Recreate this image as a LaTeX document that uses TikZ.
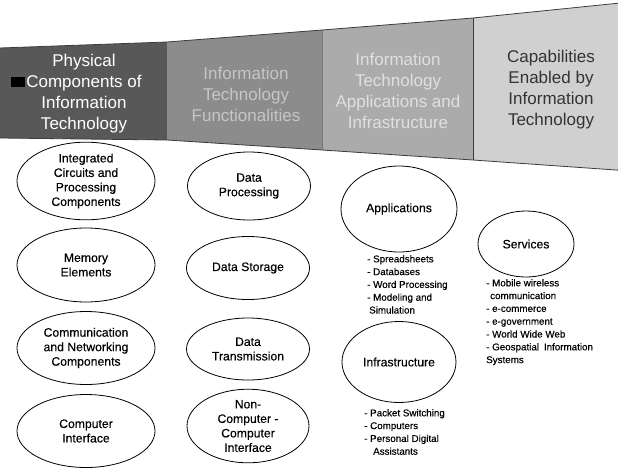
\documentclass[tikz,border=0pt]{standalone}
\usepackage{fontspec}
\setmainfont{Liberation Sans}
\newfontfamily\inkfont[FakeBold=0.35]{Liberation Sans}
\usetikzlibrary{positioning, shapes.geometric}
\definecolor{PanelA}{HTML}{585858}
\definecolor{PanelB}{HTML}{8C8C8C}
\definecolor{PanelC}{HTML}{ABABAB}
\definecolor{PanelD}{HTML}{D0D0D0}
\definecolor{Edge}{HTML}{3C3C3C}
\tikzset{
    headtext/.style={align=center, inner sep=0pt, font=\fontsize{17}{21}\selectfont},
    bubble/.style={ellipse, draw=black, line width=0.8pt, align=center, inner sep=0pt, font=\inkfont\fontsize{12.2}{14.5}\selectfont},
    bullets/.style={anchor=north west, align=left, inner sep=0pt, font=\inkfont\fontsize{9.8}{12.8}\selectfont},
}

\begin{document}
\begin{tikzpicture}[x=1pt, y=-1pt] % 1pt per pixel, y downwards
    \useasboundingbox (0,0) rectangle (618,469);
    \begin{scope}
        \clip (0,0) rectangle (618,469);
        % Header band, widening to the right
        \fill[PanelA] (0,48) -- (167,42) -- (167,140) -- (0,138) -- cycle;
        \fill[PanelB] (167,42) -- (322,30) -- (322,150) -- (167,140) -- cycle;
        \fill[PanelC] (322,30) -- (473,18) -- (473,160) -- (322,150) -- cycle;
        \fill[PanelD] (473,18) -- (630,2) -- (630,171) -- (473,160) -- cycle;
        \draw[Edge, line width=0.8pt] (0,48) -- (167,42) -- (322,30) -- (473,18) -- (630,2);
        \draw[Edge, line width=0.8pt] (0,138) -- (167,140) -- (322,150) -- (473,160) -- (630,171);
        \draw[Edge!70, line width=0.6pt] (322,30) -- (322,150);
        \draw[Edge, line width=0.8pt] (473,18) -- (473,160);
        \fill[black] (11,77) rectangle (25,87);
    \end{scope}

    % Header titles
    \node[headtext, text=white] (phys) at (84,94) {Physical\\Components of\\Information\\Technology};
    \node[headtext, text=gray!45] (func) at (246,94) {Information\\Technology\\Functionalities};
    \node[headtext, text=white!88!black] (appinf) at (398,91) {Information\\Technology\\Applications and\\Infrastructure};
    \node[headtext, text=black!80] (capab) at (551,90) {Capabilities\\Enabled by\\Information\\Technology};

    % Physical components
    \node[bubble, minimum width=138pt, minimum height=77pt] (chips) at (86,181) {Integrated\\Circuits and\\Processing\\Components};
    \node[bubble, minimum width=138pt, minimum height=74pt] (memory) at (86,265) {Memory\\Elements};
    \node[bubble, minimum width=138pt, minimum height=73pt] (network) at (86,348) {Communication\\and Networking\\Components};
    \node[bubble, minimum width=138pt, minimum height=73pt] (cinterf) at (86,431) {Computer\\Interface};

    % Functionalities
    \node[bubble, minimum width=123pt, minimum height=68pt] (dproc) at (249,186) {Data\\Processing};
    \node[bubble, minimum width=123pt, minimum height=63pt] (dstore) at (248,268) {Data Storage};
    \node[bubble, minimum width=123pt, minimum height=62pt] (dtrans) at (248,349) {Data\\Transmission};
    \node[bubble, minimum width=122pt, minimum height=72pt] (ncinterf) at (248,426) {Non-\\Computer -\\Computer\\Interface};

    % Applications and infrastructure
    \node[bubble, minimum width=116pt, minimum height=86pt] (apps) at (399,209) {Applications};
    \node[bullets] (appslist) at (367,255) {- Spreadsheets\\- Databases\\- Word Processing\\- Modeling and\\\hspace{2pt}Simulation};
    \node[bubble, minimum width=114pt, minimum height=81pt] (infra) at (399,362) {Infrastructure};
    \node[bullets] (infralist) at (364,409) {- Packet Switching\\- Computers\\- Personal Digital\\\hspace{9pt}Assistants};

    % Capabilities
    \node[bubble, minimum width=96pt, minimum height=66pt] (services) at (526,244) {Services};
    \node[bullets] (servlist) at (486,279) {- Mobile wireless\\\hspace{4pt}communication\\- e-commerce\\- e-government\\- World Wide Web\\- Geospatial\hspace{0.5em}Information\\Systems};
\end{tikzpicture}
\end{document}
